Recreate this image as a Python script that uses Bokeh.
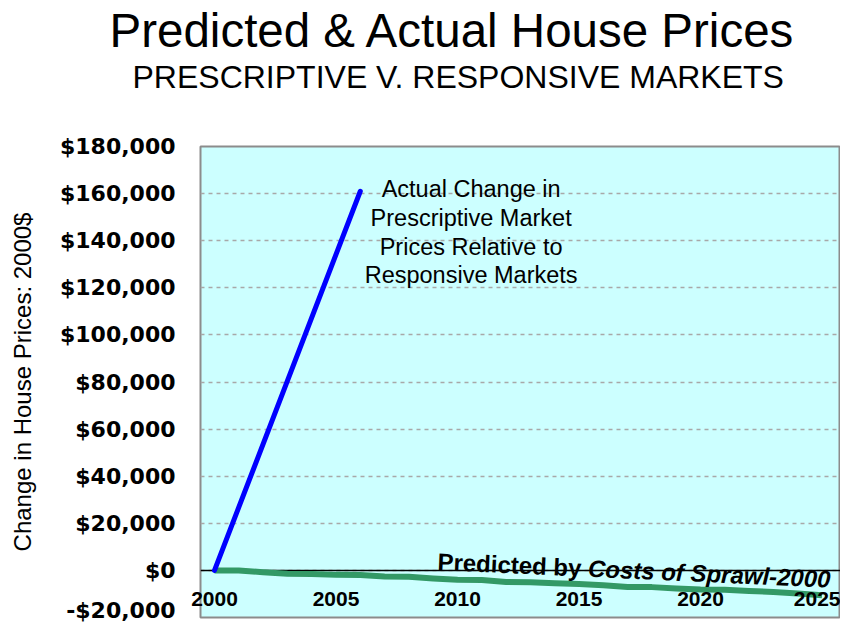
import math
from bokeh.plotting import figure
from bokeh.models import (Range1d, FixedTicker, Span, Label, Title)
from bokeh.embed import file_html
from bokeh.resources import INLINE

# ---- data ----
years_pred = list(range(2000, 2026))
pred_change = [0, 0, -800, -1400, -1500, -1900, -2000, -2600, -2700, -3400,
               -4000, -4100, -4900, -5000, -5500, -5800, -6300, -7000, -7100,
               -7700, -8100, -8200, -8700, -9200, -9800, -10600]
years_actual = [2000, 2006]
actual_change = [0, 161000]

x_ticks = [2000, 2005, 2010, 2015, 2020, 2025]
x_tick_labels = ["2000", "2005", "2010", "2015", "2020", "2025"]
y_ticks = [-20000, 0, 20000, 40000, 60000, 80000, 100000, 120000, 140000, 160000, 180000]
y_tick_labels = ["-$20,000", "$0", "$20,000", "$40,000", "$60,000", "$80,000",
                 "$100,000", "$120,000", "$140,000", "$160,000", "$180,000"]

title_text = "Predicted & Actual House Prices"
subtitle_text = "PRESCRIPTIVE V. RESPONSIVE MARKETS"
y_label_text = "Change in House Prices: 2000$"
actual_note = "Actual Change in\nPrescriptive Market\nPrices Relative to\nResponsive Markets"
pred_note_1 = "Predicted by "
pred_note_2 = "Costs of Sprawl-2000"

FONT = "Liberation Sans"

p = figure(width=840, height=622, output_backend="svg", toolbar_location=None,
           x_range=Range1d(1999.424, 2025.76), y_range=Range1d(-20000, 180000),
           min_border_left=200, min_border_right=0, min_border_top=146,
           min_border_bottom=5)

p.background_fill_color = "#CCFFFF"
p.border_fill_color = "white"
p.outline_line_color = "#8C8C8C"
p.outline_line_width = 2

# ---- x axis: labels drawn just inside the bottom of the plot area ----
xax = p.below[0]
xax.ticker = FixedTicker(ticks=x_ticks)
xax.major_label_overrides = {t: l for t, l in zip(x_ticks, x_tick_labels)}
xax.major_label_text_font = FONT
xax.major_label_text_font_style = "bold"
xax.major_label_text_font_size = "21px"
xax.major_label_text_color = "black"
xax.major_label_standoff = -26
xax.major_tick_out = 0
xax.major_tick_in = 0
xax.axis_line_color = None
xax.major_tick_line_color = None
xax.minor_tick_line_color = None

# ---- y axis ----
yax = p.left[0]
yax.ticker = FixedTicker(ticks=y_ticks)
yax.major_label_overrides = {t: l for t, l in zip(y_ticks, y_tick_labels)}
yax.major_label_text_font = "DejaVu Sans"
yax.major_label_text_font_style = "bold"
yax.major_label_text_font_size = "22px"
yax.major_label_text_color = "black"
yax.major_label_standoff = 25
yax.major_tick_out = 0
yax.major_tick_in = 0
yax.axis_line_color = None
yax.major_tick_line_color = None
yax.minor_tick_line_color = None
yax.axis_label = y_label_text
yax.axis_label_text_font = FONT
yax.axis_label_text_font_style = "normal"
yax.axis_label_text_font_size = "24px"
yax.axis_label_text_color = "black"
yax.axis_label_standoff = 21

# ---- titles: blank spacer next to the frame, then subtitle, then main title ----
p.add_layout(Title(text=" ", standoff=49, text_font=FONT, text_font_size="1px",
                   text_color="white"), "above")
p.add_layout(Title(text=subtitle_text, align="left", offset=-68, standoff=0,
                   vertical_align="bottom", text_font=FONT, text_font_style="normal",
                   text_font_size="32px", text_color="black"), "above")
p.title = Title(text=title_text, align="left", offset=-91, standoff=0,
                vertical_align="bottom", text_font=FONT, text_font_style="normal",
                text_font_size="47.5px", text_color="black")

p.xgrid.visible = False
p.ygrid.ticker = FixedTicker(ticks=y_ticks)
p.ygrid.grid_line_color = "#A8A8A8"
p.ygrid.grid_line_dash = "4 4"
p.ygrid.grid_line_width = 1.5

zero = Span(location=0, dimension="width", line_color="black", line_width=1.5, level="underlay")
p.add_layout(zero)

p.line(years_pred, pred_change, line_color="#339966", line_width=6, line_join="round")
p.line(years_actual, actual_change, line_color="#0000FF", line_width=5, line_cap="round")

# ---- annotations ----
p.add_layout(Label(x=2010.56, y=167300, text=actual_note, text_align="center",
                   text_baseline="top", text_font=FONT, text_font_size="23.5px",
                   text_line_height=1.1, text_color="black"))

ang = -0.045
w1 = 150.7
p.add_layout(Label(x=2009.18, y=3800, text=pred_note_1, angle=ang, text_align="left",
                   text_baseline="alphabetic", text_font=FONT, text_font_style="bold",
                   text_font_size="24px", text_color="black"))
p.add_layout(Label(x=2009.18, y=3800, text=pred_note_2, angle=ang, text_align="left",
                   text_baseline="alphabetic", x_offset=w1 * math.cos(ang),
                   y_offset=w1 * math.sin(ang), text_font=FONT,
                   text_font_style="bold italic", text_font_size="24px", text_color="black"))

open("out.html", "w").write(file_html(p, INLINE))
